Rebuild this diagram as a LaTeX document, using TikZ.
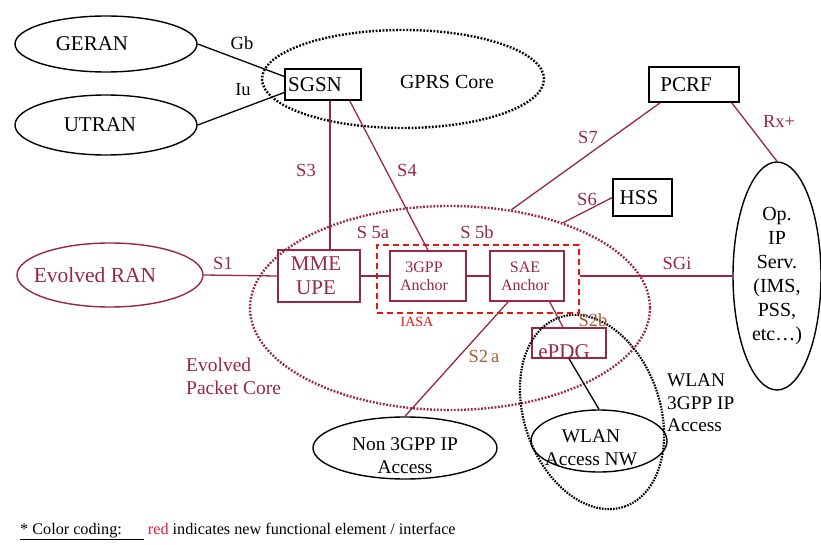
\documentclass[tikz,border=0pt]{standalone}
\usepackage{fontspec}
\setmainfont{Liberation Serif}
\usetikzlibrary{shapes.geometric,calc}
\definecolor{epc}{RGB}{152,38,70}
\definecolor{iasared}{RGB}{232,20,20}
\definecolor{ifbrown}{RGB}{165,95,55}
\definecolor{codered}{RGB}{220,30,70}
\begin{document}
\begin{tikzpicture}[x=1pt,y=-1pt,
  oval/.style={ellipse, draw, line width=1.4pt, inner sep=0pt},
  box/.style={draw, line width=1.3pt, inner sep=0pt},
  bigtxt/.style={font=\fontsize{21}{23}\selectfont, align=center, inner sep=0pt},
  midtxt/.style={font=\fontsize{19.4}{23}\selectfont, align=center, inner sep=0pt},
  anchortxt/.style={font=\fontsize{16}{18}\selectfont, align=center, inner sep=0pt, text=epc},
  iflabel/.style={font=\fontsize{18.5}{20}\selectfont, inner sep=0pt},
  bk/.style={draw=black, line width=1.3pt},
  rd/.style={draw=epc, line width=1.3pt},
  dotline/.style={line width=2.4pt, dash pattern=on 1.8pt off 1.6pt}
]
\useasboundingbox (0,0) rectangle (821,545);

% ---- access networks and service domain ----
\node[oval, minimum width=182, minimum height=56] (geran) at (106,44) {};
\node[bigtxt] (gerantxt) at (92,44) {GERAN};
\node[oval, minimum width=182, minimum height=60] (utran) at (106,125) {};
\node[bigtxt] (utrantxt) at (100,125) {UTRAN};
\node[oval, draw=epc, minimum width=186, minimum height=64] (eran) at (110,275) {};
\node[bigtxt, text=epc, font=\fontsize{21.5}{23}\selectfont] (erantxt) at (95,275) {Evolved RAN};
\node[oval, minimum width=184, minimum height=62] (non) at (405,448) {};
\node[midtxt] (nontxt) at (405,456) {Non 3GPP IP\\Access};
\node[oval, minimum width=136, minimum height=62] (wlan) at (599,441) {};
\node[midtxt] (wlantxt) at (591,448) {WLAN\\Access NW};
\node[oval, align=center, font=\fontsize{20}{24}\selectfont, minimum width=88, minimum height=228] (op) at (777,276) {Op.\\IP\\Serv.\\(IMS,\\PSS,\\etc\dots)};

% ---- core domains (dotted outlines) ----
\node[ellipse, draw=black, dotline, minimum width=282, minimum height=98] (gprs) at (403,79) {};
\node[bigtxt, font=\fontsize{20}{22}\selectfont] (gprstxt) at (447,82) {GPRS Core};
\node[ellipse, draw=epc, dotline, minimum width=400, minimum height=204] (epccore) at (450,308) {};
\node[font=\fontsize{19.5}{23}\selectfont, text=epc, align=left, anchor=west, inner sep=0pt] (epctxt) at (186,376) {Evolved\\Packet Core};

% ---- functional elements ----
\node[box, minimum width=76, minimum height=31] (sgsn) at (323,84.5) {};
\node[bigtxt, anchor=west] (sgsntxt) at (288,84.5) {SGSN};
\node[box, minimum width=90, minimum height=35] (pcrf) at (694,84.5) {};
\node[bigtxt] (pcrftxt) at (686,84.5) {PCRF};
\node[box, minimum width=59, minimum height=37] (hss) at (642.5,197.5) {};
\node[bigtxt] (hsstxt) at (639,197.5) {HSS};
\node[box, draw=epc, minimum width=82, minimum height=52] (mme) at (319,276) {};
\node[bigtxt, text=epc, font=\fontsize{21}{24}\selectfont] (mmetxt) at (316,276) {MME\\UPE};
\node[draw=iasared, line width=2.6pt, dash pattern=on 6pt off 4pt, minimum width=202, minimum height=68, inner sep=0pt] (iasa) at (478,279) {};
\node[box, draw=epc, minimum width=76, minimum height=50] (g3) at (428,276) {};
\node[anchortxt] (g3txt) at (424,276) {3GPP\\Anchor};
\node[box, draw=epc, minimum width=74, minimum height=50] (sae) at (527,276) {};
\node[anchortxt] (saetxt) at (525,276) {SAE\\Anchor};
\node[box, draw=epc, minimum width=74, minimum height=30] (epdg) at (569,343) {};
\node[font=\fontsize{21}{23}\selectfont, text=epc, inner sep=0pt] (epdgtxt) at (564,352) {ePDG};

% ---- WLAN 3GPP IP access area ----
\node[ellipse, draw=black, line width=2.2pt, dash pattern=on 1.6pt off 1.2pt, minimum width=200, minimum height=136, rotate=-71] (wlanarea) at (592,412) {};
\node[font=\fontsize{19.3}{22.5}\selectfont, align=left, anchor=west, inner sep=0pt] (wlanareatxt) at (667,403) {WLAN\\3GPP IP\\Access};

% ---- interfaces ----
\draw[bk] (geran.east) -- ($(sgsn.west)+(0,-8)$);
\draw[bk] (utran.east) -- ($(sgsn.west)+(0,8)$);
\draw[rd] ($(mme.north)+(11,0)$) coordinate (s3low) -- (s3low |- sgsn.south);
\draw[rd] ($(sgsn.south east)+(-12,0)$) -- (g3.north);
\draw[rd] ($(pcrf.south west)+(12,0)$) -- (epccore.58);
\draw[rd] (hss.west) -- (epccore.37);
\draw[rd] ($(pcrf.south east)+(-8,0)$) -- (op.north);
\draw[rd] (eran.east) -- (mme.west);
\draw[rd] (mme.east) -- (g3.west);
\draw[rd] (g3.east) -- (sae.west);
\draw[rd] (iasa.east |- sae.east) -- (op.west);
\draw[rd] ($(sae.south west)+(19,0)$) -- (non.north);
\draw[rd] ($(sae.south east)+(-15,0)$) -- ($(epdg.north)+(-6,0)$);
\draw[bk] (epdg.south) -- (wlan.north);

% ---- interface labels ----
\node[iflabel] (lgb) at (242,43) {Gb};
\node[iflabel] (liu) at (243,90) {Iu};
\node[iflabel, text=epc] (ls3) at (306,170) {S3};
\node[iflabel, text=epc] (ls4) at (407,170) {S4};
\node[iflabel, text=epc] (ls7) at (588,137) {S7};
\node[iflabel, text=epc] (ls6) at (587,199) {S6};
\node[iflabel, text=epc] (lrx) at (779,121) {Rx+};
\node[iflabel, text=epc] (ls1) at (223,263) {S1};
\node[iflabel, text=epc] (ls5a) at (373,232) {S 5a};
\node[iflabel, text=epc] (ls5b) at (477,232) {S 5b};
\node[iflabel, text=epc] (lsgi) at (677,263) {SGi};
\node[iflabel, text=iasared, font=\fontsize{14}{16}\selectfont] (liasa) at (417,322) {IASA};
\node[iflabel, text=ifbrown] (ls2b) at (593,320) {S2b};
\node[iflabel, text=ifbrown] (ls2a) at (484,356) {S2\,a};

% ---- legend ----
\node[anchor=base west, inner sep=0pt, font=\fontsize{16.2}{18}\selectfont] (legend) at (20,534)
  {\underline{* Color coding:\hspace*{22pt}}\ \textcolor{codered}{red} indicates new functional element / interface};
\end{tikzpicture}
\end{document}
